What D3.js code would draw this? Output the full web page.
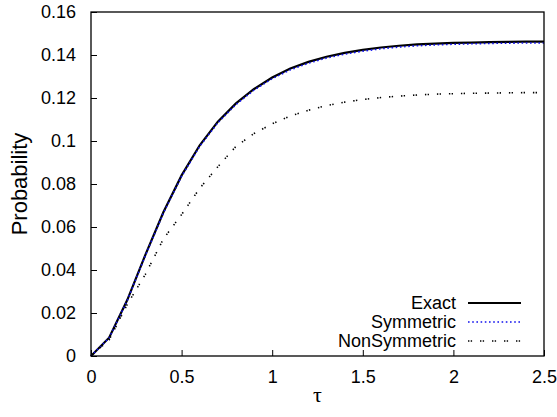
<!DOCTYPE html>
<html>
<head>
<meta charset="utf-8">
<script src="https://cdn.jsdelivr.net/npm/d3@7"></script>
<style>
  html, body { margin: 0; padding: 0; background: #fff; }
  svg { display: block; font-family: "Liberation Sans", Arial, sans-serif; }
</style>
</head>
<body>
<svg id="chart" width="557" height="417"></svg>
<script>
const tau = [0, 0.1, 0.2, 0.3, 0.4, 0.5, 0.6, 0.7, 0.8, 0.9, 1.0, 1.1, 1.2, 1.3, 1.4, 1.5, 1.6, 1.7, 1.8, 1.9, 2.0, 2.1, 2.2, 2.3, 2.4, 2.5];
const exact = [0, 0.0085, 0.026, 0.047, 0.067, 0.084, 0.098, 0.109, 0.1175, 0.1242, 0.1295, 0.1337, 0.1368, 0.1392, 0.1410, 0.1424, 0.1435, 0.1443, 0.1449, 0.1453, 0.1456, 0.1458, 0.1460, 0.1461, 0.1462, 0.1462];
const symmetric = [0, 0.0084, 0.0258, 0.0467, 0.0666, 0.0836, 0.0975, 0.1085, 0.1170, 0.1237, 0.1290, 0.1331, 0.1362, 0.1386, 0.1404, 0.1418, 0.1429, 0.1437, 0.1443, 0.1447, 0.1450, 0.1452, 0.1454, 0.1455, 0.1456, 0.1456];
const nonSymmetric = [0, 0.0075, 0.024, 0.038, 0.0545, 0.0658, 0.078, 0.088, 0.0975, 0.1035, 0.108, 0.1116, 0.1143, 0.1165, 0.1181, 0.1193, 0.1202, 0.1209, 0.1214, 0.1218, 0.1220, 0.1222, 0.1223, 0.1224, 0.1225, 0.1225];
const seriesNames = ["Exact", "Symmetric", "NonSymmetric"];
const xTicks = [0, 0.5, 1, 1.5, 2, 2.5];
const xTickLabels = ["0", "0.5", "1", "1.5", "2", "2.5"];
const yTicks = [0, 0.02, 0.04, 0.06, 0.08, 0.1, 0.12, 0.14, 0.16];
const yTickLabels = ["0", "0.02", "0.04", "0.06", "0.08", "0.1", "0.12", "0.14", "0.16"];

const svg = d3.select("#chart");
const L = 91, R = 544, T = 12, B = 356;
const x = d3.scaleLinear().domain([0, 2.5]).range([L, R]);
const y = d3.scaleLinear().domain([0, 0.16]).range([B, T]);

// axes (ticks inward, no mirror)
const xAxis = d3.axisBottom(x).tickValues(xTicks).tickFormat((d, i) => xTickLabels[i]).tickSizeInner(-6).tickSizeOuter(0).tickPadding(14);
const yAxis = d3.axisLeft(y).tickValues(yTicks).tickFormat((d, i) => yTickLabels[i]).tickSizeInner(-6).tickSizeOuter(0).tickPadding(15);

const gx = svg.append("g").attr("transform", `translate(0,${B})`).call(xAxis);
const gy = svg.append("g").attr("transform", `translate(${L},0)`).call(yAxis);
[gx, gy].forEach(g => {
  g.select(".domain").remove();
  g.selectAll(".tick line").attr("stroke", "#000").attr("stroke-width", 1);
  g.selectAll(".tick text").attr("fill", "#000").attr("font-size", 18).attr("font-family", "Liberation Sans, Arial, sans-serif");
});

// series
const series = [
  { name: seriesNames[0], values: exact, color: "#000", width: 2.2, dash: null },
  { name: seriesNames[1], values: symmetric, color: "#1010ee", width: 1.6, dash: "1.6,2.6" },
  { name: seriesNames[2], values: nonSymmetric, color: "#000", width: 1.6, dash: "1.4,1.3,1.4,7.9" }
];
const line = d3.line().x((d, i) => x(tau[i])).y(d => y(d));
series.forEach(s => {
  svg.append("path").datum(s.values)
    .attr("d", line)
    .attr("fill", "none")
    .attr("stroke", s.color)
    .attr("stroke-width", s.width)
    .attr("stroke-dasharray", s.dash);
});

// frame
svg.append("rect").attr("x", L).attr("y", T).attr("width", R - L).attr("height", B - T)
  .attr("fill", "none").attr("stroke", "#000").attr("stroke-width", 1.3);

// legend
const legY0 = 303, legStep = 19;
series.forEach((s, i) => {
  const yy = legY0 + i * legStep;
  svg.append("text").attr("x", 456).attr("y", yy).attr("dy", "0.36em")
    .attr("text-anchor", "end").attr("font-size", 18).attr("fill", "#000").text(s.name);
  svg.append("line").attr("x1", 468).attr("x2", 521).attr("y1", yy).attr("y2", yy)
    .attr("stroke", s.color).attr("stroke-width", s.width).attr("stroke-dasharray", s.dash);
});

// axis titles
svg.append("text").attr("x", (L + R) / 2).attr("y", 402).attr("text-anchor", "middle")
  .attr("font-size", 22).attr("font-family", "Liberation Serif, Times New Roman, serif").attr("fill", "#000").text("τ");
svg.append("text").attr("transform", `translate(19,${(T + B) / 2}) rotate(-90)`)
  .attr("text-anchor", "middle").attr("dy", "0.35em").attr("font-size", 22).attr("fill", "#000").text("Probability");
</script>
</body>
</html>
